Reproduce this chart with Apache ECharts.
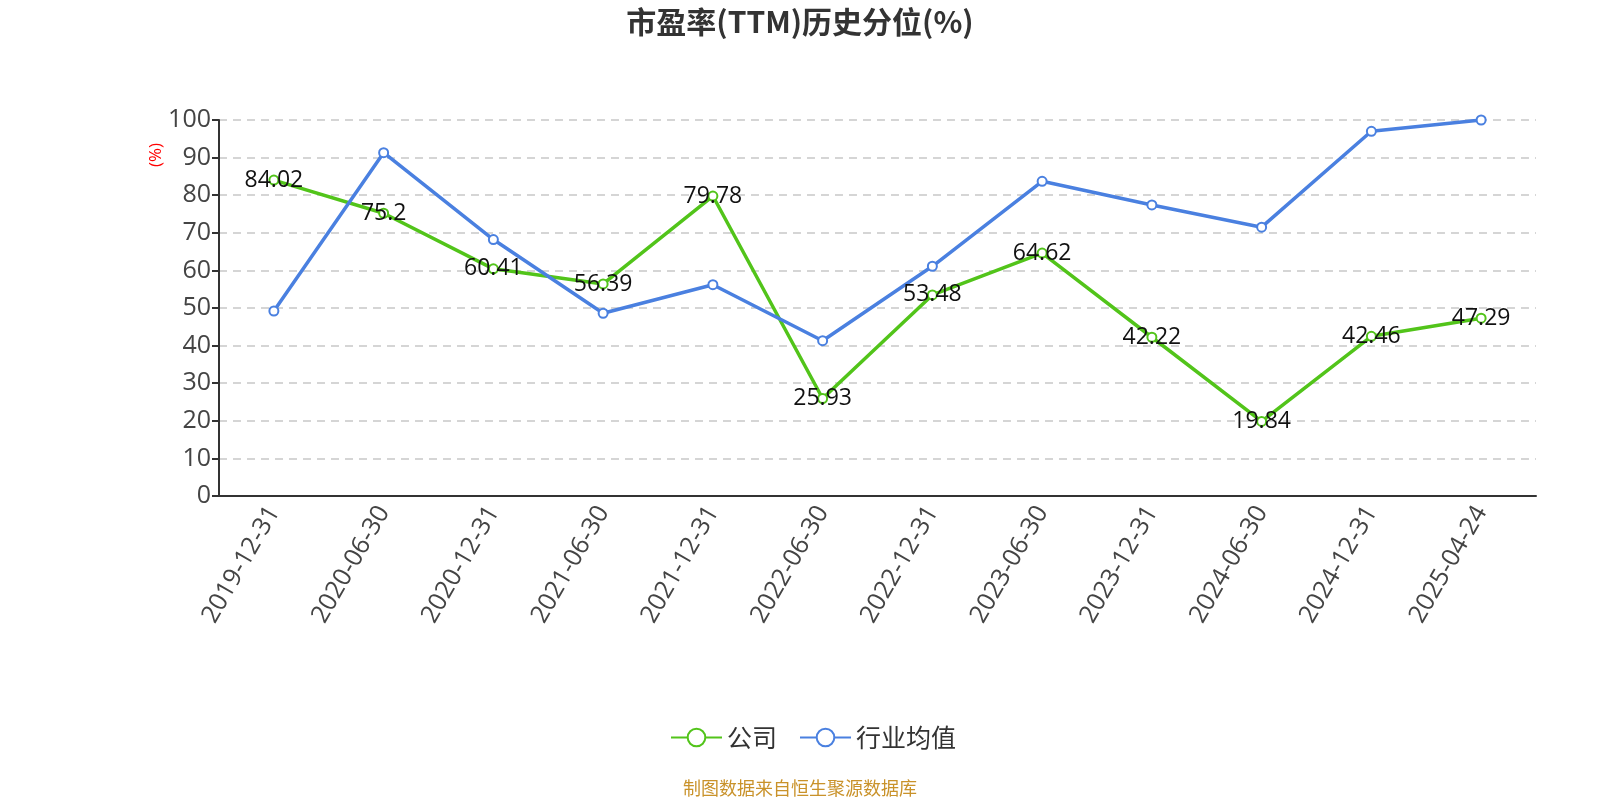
<!DOCTYPE html>
<html><head><meta charset="utf-8">
<script src="https://cdn.jsdelivr.net/npm/echarts@6/dist/echarts.min.js"></script>
<style>html,body{margin:0;padding:0;background:#fff}#c{width:1600px;height:800px}</style>
</head><body><div id="c"></div>
<script>
const categories = ['2019-12-31','2020-06-30','2020-12-31','2021-06-30','2021-12-31','2022-06-30','2022-12-31','2023-06-30','2023-12-31','2024-06-30','2024-12-31','2025-04-24'];
const companyValues = [84.02, 75.2, 60.41, 56.39, 79.78, 25.93, 53.48, 64.62, 42.22, 19.84, 42.46, 47.29];
const industryValues = [49.2, 91.3, 68.2, 48.6, 56.2, 41.3, 61.1, 83.7, 77.4, 71.5, 97.0, 100];
const yTicks = [0,10,20,30,40,50,60,70,80,90,100];

const chart = echarts.init(document.getElementById('c'));
const cjk = '"Noto Sans CJK SC",sans-serif';
const num = '"Open Sans","Noto Sans CJK SC",sans-serif';
chart.setOption({
  textStyle:{fontFamily:cjk},
  title:{text:'市盈率(TTM)历史分位(%)',left:'center',top:2,textStyle:{fontSize:30,fontWeight:'bold',color:'#333',fontFamily:cjk}},
  legend:{top:720,left:665,itemWidth:51,itemHeight:22,itemGap:22,textStyle:{fontSize:25,color:'#333',fontFamily:cjk},data:['公司','行业均值']},
  grid:{left:219,right:64,top:120,bottom:304},
  xAxis:{type:'category',data:categories,boundaryGap:true,
    axisLine:{lineStyle:{color:'#333',width:2}},axisTick:{lineStyle:{color:'#333',width:2},length:7},
    axisLabel:{rotate:60,fontSize:25,color:'#444',margin:12,interval:0,fontFamily:num}},
  yAxis:{type:'value',min:0,max:100,interval:10,
    axisLine:{show:true,lineStyle:{color:'#333',width:2}},axisTick:{show:true,lineStyle:{color:'#333',width:2},length:7},
    axisLabel:{fontSize:25,color:'#444',margin:8,fontFamily:num,formatter:function(v){return yTicks.indexOf(v)>=0?String(v):'';}},
    splitLine:{lineStyle:{type:[8,6],color:'#c8c8c8',width:1.5}}},
  graphic:[{type:'text',left:148,top:143,rotation:Math.PI/2,style:{text:'(%)',fill:'#f00',font:'17px '+num}},
    {type:'text',left:'center',top:779,style:{text:'制图数据来自恒生聚源数据库',fill:'#c9922a',font:'18px '+cjk}}],
  series:[
    {name:'公司',type:'line',data:companyValues,symbol:'emptyCircle',symbolSize:9,
      itemStyle:{color:'#52c41a',borderWidth:2},lineStyle:{width:3.5,color:'#52c41a'},
      label:{show:true,position:'inside',fontSize:23,color:'#111',fontFamily:num}},
    {name:'行业均值',type:'line',data:industryValues,symbol:'emptyCircle',symbolSize:9,
      itemStyle:{color:'#4a80e0',borderWidth:2},lineStyle:{width:3.5,color:'#4a80e0'}}
  ]
});
</script></body></html>
